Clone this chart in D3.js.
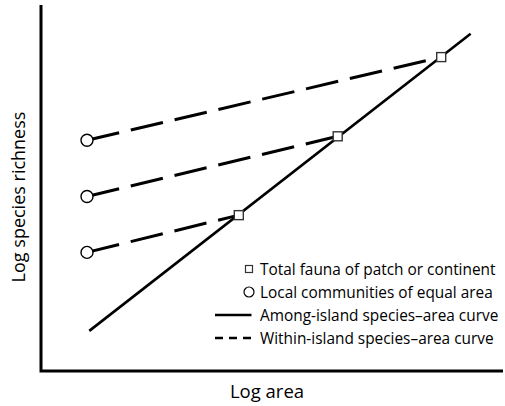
<!DOCTYPE html>
<html>
<head>
<meta charset="utf-8">
<script src="https://cdn.jsdelivr.net/npm/d3@7"></script>
<style>
  html, body { margin: 0; padding: 0; background: #fff; }
  #viz { width: 505px; height: 406px; }
  text { font-family: "Open Sans", sans-serif; fill: #000; }
</style>
</head>
<body>
<div id="viz"></div>
<script>
// -----------------------------
// DATA (log area / log richness, arbitrary units 0-100)
// -----------------------------
const localX = [10, 10, 10];               // local communities of equal area
const localY = [63.2, 47.8, 32.5];
const totalX = [87, 64.5, 43];             // total fauna of patch / continent
const totalY = [86, 64.3, 42.7];
const amongX = [10.5, 93.4];               // among-island curve ends
const amongY = [11, 92.4];

const legendLabels = [
  "Total fauna of patch or continent",
  "Local communities of equal area",
  "Among-island species\u2013area curve",
  "Within-island species\u2013area curve"
];
const xTitle = "Log area";
const yTitle = "Log species richness";

const width = 505, height = 406;

const svg = d3.select("#viz")
  .append("svg")
  .attr("width", width)
  .attr("height", height);

const x = d3.scaleLinear().domain([0, 100]).range([41, 501]);
const y = d3.scaleLinear().domain([0, 100]).range([371, 6]);

// -----------------------------
// AXES (plain lines, no ticks)
// -----------------------------
svg.append("path")
  .attr("d", `M${x(0)},${y(100) - 1}V${y(0)}H${width - 2}`)
  .attr("fill", "none")
  .attr("stroke", "#000")
  .attr("stroke-width", 3);

svg.append("text")
  .attr("x", 267)
  .attr("y", 398)
  .attr("text-anchor", "middle")
  .attr("font-size", 18.5)
  .text(xTitle);

svg.append("text")
  .attr("transform", "translate(25,197) rotate(-90)")
  .attr("text-anchor", "middle")
  .attr("font-size", 18)
  .text(yTitle);

// -----------------------------
// LINES
// -----------------------------
const line = d3.line().x(d => x(d[0])).y(d => y(d[1]));

svg.append("path")
  .datum(d3.zip(amongX, amongY))
  .attr("d", line)
  .attr("fill", "none")
  .attr("stroke", "#000")
  .attr("stroke-width", 2.6);

localX.forEach((lx, i) => {
  svg.append("path")
    .datum([[lx, localY[i]], [totalX[i], totalY[i]]])
    .attr("d", line)
    .attr("fill", "none")
    .attr("stroke", "#000")
    .attr("stroke-width", 3)
    .attr("stroke-dasharray", "33,12");
});

// -----------------------------
// MARKERS
// -----------------------------
svg.selectAll("circle.local")
  .data(d3.zip(localX, localY))
  .join("circle")
  .attr("class", "local")
  .attr("cx", d => x(d[0]))
  .attr("cy", d => y(d[1]))
  .attr("r", 6)
  .attr("fill", "#fff")
  .attr("stroke", "#000")
  .attr("stroke-width", 1.4);

const sq = 9;
svg.selectAll("rect.total")
  .data(d3.zip(totalX, totalY))
  .join("rect")
  .attr("class", "total")
  .attr("x", d => x(d[0]) - sq / 2)
  .attr("y", d => y(d[1]) - sq / 2)
  .attr("width", sq)
  .attr("height", sq)
  .attr("fill", "#fff")
  .attr("stroke", "#333")
  .attr("stroke-width", 1.4);

// -----------------------------
// LEGEND
// -----------------------------
const legY = [269, 292, 315, 338];
const textX = 260;
const leg = svg.append("g");

leg.append("rect")
  .attr("x", 245.5).attr("y", legY[0] - 3.5)
  .attr("width", 7).attr("height", 7)
  .attr("fill", "#fff").attr("stroke", "#333").attr("stroke-width", 1.2);

leg.append("circle")
  .attr("cx", 249).attr("cy", legY[1])
  .attr("r", 5)
  .attr("fill", "#fff").attr("stroke", "#000").attr("stroke-width", 1.2);

leg.append("line")
  .attr("x1", 215).attr("x2", 251.5)
  .attr("y1", legY[2]).attr("y2", legY[2])
  .attr("stroke", "#000").attr("stroke-width", 2.6);

leg.append("line")
  .attr("x1", 215).attr("x2", 251.5)
  .attr("y1", legY[3]).attr("y2", legY[3])
  .attr("stroke", "#000").attr("stroke-width", 2.6)
  .attr("stroke-dasharray", "8,6");

leg.selectAll("text")
  .data(legendLabels)
  .join("text")
  .attr("x", textX)
  .attr("y", (d, i) => legY[i] + 5.5)
  .attr("font-size", 15.4)
  .text(d => d);
</script>
</body>
</html>
